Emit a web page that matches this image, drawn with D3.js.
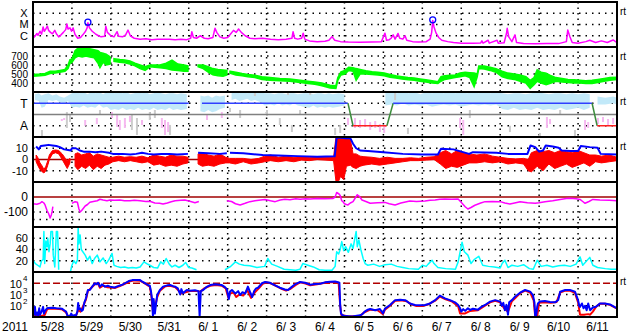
<!DOCTYPE html>
<html>
<head>
<meta charset="utf-8">
<script src="https://cdn.jsdelivr.net/npm/d3@7"></script>
<style>
body { margin: 0; background: #fff; }
svg text { font-family: "Liberation Sans", Arial, sans-serif; white-space: pre; }
</style>
</head>
<body>
<svg width="633" height="334"></svg>
<script>
// time axis: days since 2011-05-28 00:00
const dayLabels = ['5/28','5/29','5/30','5/31','6/ 1','6/ 2','6/ 3','6/ 4','6/ 5','6/ 6','6/ 7','6/ 8','6/ 9','6/10','6/11'];

// GOES x-ray flux [day, W/m2]
const xrayFlux = [[0,6e-7],[0.05,9e-7],[0.1,1.6e-6],[0.13,1.1e-6],[0.18,2.5e-6],[0.22,1.4e-6],[0.26,6e-6],[0.29,2.5e-6],[0.33,4e-6],[0.37,7e-6],[0.4,3e-6],[0.45,2e-6],[0.5,1.5e-6],[0.56,3e-6],[0.6,1.5e-6],[0.66,8e-7],[0.72,1.2e-6],[0.78,2e-6],[0.84,3.5e-6],[0.87,1.1e-5],[0.9,4e-6],[0.95,5e-6],[0.99,2.5e-6],[1.03,5e-6],[1.08,1.3e-6],[1.15,6e-7],[1.22,7e-7],[1.28,1.2e-6],[1.35,2.5e-6],[1.39,5e-6],[1.41,1.45e-5],[1.45,5e-6],[1.52,2.5e-6],[1.6,1.5e-6],[1.68,1e-6],[1.75,8e-7],[1.84,9e-7],[1.87,7e-6],[1.91,2e-6],[2,1e-6],[2.08,8e-7],[2.16,2.3e-6],[2.2,9e-7],[2.3,8e-7],[2.38,1.2e-6],[2.44,3.2e-6],[2.5,1e-6],[2.6,6e-7],[2.75,5e-7],[2.9,5.5e-7],[3.05,4.5e-7],[3.2,5e-7],[3.35,4.8e-7],[3.5,5e-7],[3.65,4.5e-7],[3.8,5e-7],[3.95,4.5e-7],[4.05,6e-7],[4.08,2.3e-6],[4.12,7e-7],[4.2,6e-7],[4.3,1e-6],[4.4,6e-7],[4.5,5.5e-7],[4.62,7e-7],[4.675,4.6e-6],[4.72,2e-6],[4.8,8e-7],[4.9,6e-7],[5,7e-7],[5.08,1.5e-6],[5.15,3e-6],[5.22,2e-6],[5.28,4e-6],[5.35,2e-6],[5.45,1e-6],[5.57,6e-7],[5.7,5.5e-7],[5.9,6e-7],[6.1,5e-7],[6.3,4.5e-7],[6.5,5e-7],[6.65,6e-7],[6.68,2.3e-6],[6.72,6e-7],[6.8,5e-7],[6.9,6e-7],[6.94,1.7e-6],[6.98,5e-7],[7.1,3.5e-7],[7.3,3e-7],[7.5,3.2e-7],[7.6,4e-7],[7.68,8.3e-7],[7.75,4e-7],[7.9,3e-7],[8.1,2.8e-7],[8.4,2.7e-7],[8.7,2.8e-7],[8.95,3e-7],[9.04,1.7e-6],[9.08,4e-7],[9.15,4.5e-7],[9.2,6e-7],[9.25,1.2e-6],[9.3,5e-7],[9.376,1.6e-6],[9.42,6e-7],[9.5,5e-7],[9.556,1e-6],[9.6,4e-7],[9.75,3e-7],[9.9,2.8e-7],[10.1,3e-7],[10.2,5e-7],[10.24,2e-6],[10.267,2.3e-5],[10.3,6e-6],[10.35,1.8e-6],[10.42,7e-7],[10.5,4e-7],[10.65,3e-7],[10.8,2.5e-7],[11,2.2e-7],[11.3,2.2e-7],[11.5,2.3e-7],[11.53,3.5e-7],[11.56,2.2e-7],[11.69,4e-7],[11.72,2.2e-7],[11.92,4e-7],[11.95,2.2e-7],[12.1,2.4e-7],[12.16,1.5e-6],[12.18,4.6e-6],[12.22,8e-7],[12.3,3e-7],[12.38,1.2e-6],[12.42,2.5e-7],[12.6,2e-7],[12.9,1.9e-7],[13.2,2e-7],[13.5,2e-7],[13.7,3e-7],[13.735,3.2e-6],[13.79,8.3e-7],[13.85,2.5e-7],[14,2.2e-7],[14.2,3e-7],[14.3,4e-7],[14.45,2.5e-7],[14.6,3.5e-7],[14.75,2.5e-7],[14.9,4.2e-7],[15,2.5e-7]];
const flareMarks = [[1.41,1.6e-5],[10.267,2.6e-5]];

// solar wind speed band [day, low, high] km/s
const windSpeed = [[0,475,495],[0.18,480,500],[0.31,485,505],[0.44,505,530],[0.57,510,530],[0.69,520,540],[0.82,530,550],[0.9,560,600],[0.95,620,660],[1,630,665],[1.08,680,760],[1.16,700,790],[1.26,690,790],[1.36,700,780],[1.46,690,780],[1.57,680,770],[1.67,620,760],[1.72,570,740],[1.8,630,730],[1.88,600,720],[1.98,610,690],[2.02,null,null],[2.08,640,670],[2.23,630,660],[2.36,625,655],[2.49,610,645],[2.62,590,620],[2.75,560,600],[2.88,540,580],[3,580,600],[3.13,575,600],[3.26,570,600],[3.42,560,620],[3.57,545,655],[3.72,540,610],[3.88,530,600],[3.98,530,590],[4.1,null,null],[4.24,580,600],[4.37,560,600],[4.5,520,580],[4.62,490,560],[4.75,480,550],[4.88,475,545],[4.98,490,540],[5.02,null,null],[5.06,510,530],[5.21,490,520],[5.37,480,505],[5.52,470,495],[5.7,460,485],[5.88,440,470],[6.09,430,460],[6.34,425,450],[6.6,420,445],[6.86,405,430],[7.06,395,420],[7.24,385,410],[7.42,370,400],[7.63,345,375],[7.78,340,370],[7.83,430,460],[7.91,490,525],[8.01,500,540],[8.11,540,575],[8.22,530,570],[8.3,430,560],[8.4,500,550],[8.55,500,535],[8.71,495,525],[8.86,490,520],[9.02,480,510],[9.17,465,495],[9.32,455,480],[9.48,445,470],[9.63,435,460],[9.79,430,455],[9.94,420,445],[10.09,410,435],[10.25,400,425],[10.4,395,415],[10.48,420,470],[10.58,440,480],[10.71,450,485],[10.84,460,490],[10.97,470,510],[11.1,480,520],[11.22,460,515],[11.33,360,510],[11.41,470,500],[11.45,560,590],[11.59,555,590],[11.74,540,575],[11.89,520,560],[12.05,470,530],[12.2,450,510],[12.36,440,500],[12.51,420,490],[12.66,400,470],[12.77,340,430],[12.87,380,460],[12.95,420,545],[13.05,400,520],[13.18,380,510],[13.31,400,480],[13.43,420,460],[13.59,410,450],[13.74,405,440],[13.9,400,435],[14.05,400,430],[14.2,395,425],[14.36,395,430],[14.51,405,440],[14.67,420,450],[14.82,430,460],[15,440,465]];

// IMF sector: +1 toward, -1 away
const sector = [[0,1],[4,1],[4,null],[4.34,null],[4.34,1],[8.09,1],[8.22,-1],[9.09,-1],[9.25,1],[14.36,1],[14.49,-1],[15,-1]];
const phiToward = [[0.05,1.3,1.8],[0.15,1.2,1.9],[0.22,0.6,1.7],[0.3,0.7,1.8],[0.4,1.3,1.9],[0.5,1.2,1.7],[0.6,1.3,1.8],[0.69,1.1,1.6],[0.8,1,1.5],[0.9,1.2,1.7],[1,0.6,1.9],[1.1,0.7,2],[1.2,0.6,1.9],[1.3,0.8,2],[1.4,0.6,1.8],[1.5,0.7,2],[1.6,0.6,1.9],[1.7,0.9,2],[1.8,0.6,1.8],[1.9,0.7,2],[2,0.4,2],[2.1,0.5,1.9],[2.2,0.4,2],[2.3,0.6,1.9],[2.4,0.4,2],[2.5,0.5,1.8],[2.6,0.4,1.9],[2.7,0.6,2],[2.8,0.4,1.9],[2.9,0.5,2],[3,0.4,1.8],[3.1,0.6,1.9],[3.2,0.4,2],[3.3,0.5,1.9],[3.4,0.4,1.8],[3.5,0.6,1.9],[3.6,0.4,1.9],[3.7,0.5,1.8],[3.8,0.4,1.9],[3.95,0.5,1.8],[4,null,null],[4.3,0.3,1.7],[4.4,0.2,1.6],[4.5,0.4,1.7],[4.6,0.2,1.5],[4.7,0.3,1.7],[4.8,0.5,1.6],[4.93,0.6,1.7],[5,null,null],[5.1,1.3,1.9],[5.2,1.4,2],[5.3,1.2,1.9],[5.4,1.3,2],[5.5,1.4,1.9],[5.6,1.2,2],[5.7,1.3,1.9],[5.85,1.1,2],[5.95,0.8,1.9],[6.1,0.9,1.9],[6.2,0.8,1.8],[6.3,1,1.9],[6.4,0.8,1.9],[6.5,0.9,1.8],[6.6,0.8,1.9],[6.7,1,1.9],[6.8,0.8,1.8],[6.95,0.7,1.9],[7.1,0.6,1.9],[7.2,0.8,1.8],[7.3,0.6,1.9],[7.4,0.7,1.9],[7.5,0.6,1.8],[7.6,0.7,1.9],[7.7,0.6,1.8],[7.85,0.7,1.9],[8,0.8,1.8],[8.05,null,null],[9.05,0.8,1.9],[9.2,0.9,2],[9.35,0.8,1.9],[9.5,1,2],[9.65,0.8,1.9],[9.8,0.9,2],[9.95,0.8,1.8],[10.1,0.9,2],[10.25,0.7,1.9],[10.4,0.8,2],[10.55,0.9,1.9],[10.7,0.8,2],[10.85,0.9,1.9],[11,0.7,2],[11.15,0.8,1.9],[11.3,0.9,2],[11.45,0.8,1.9],[11.6,0.9,2],[11.75,0.8,1.9],[11.9,0.9,2],[12.05,0.5,1.9],[12.2,0.4,1.8],[12.35,0.6,1.9],[12.5,0.4,1.9],[12.65,0.5,1.8],[12.8,0.4,1.9],[12.95,0.6,2],[13.1,0.4,1.9],[13.25,0.5,1.8],[13.4,0.4,1.9],[13.55,0.6,1.9],[13.7,0.4,1.8],[13.85,0.5,1.9],[14,0.6,1.8],[14.15,0.4,1.9],[14.3,0.6,1.8],[14.35,null,null],[14.5,0.9,1.6],[14.7,0.9,1.5],[14.9,1,1.6],[15,0.9,1.5]];
const phiAway = [[0.74,-0.58,-0.4],[0.8,-0.49,-0.31],[1.34,-1,-0.49],[1.64,-0.85,-0.31],[2.03,-0.31,0.22],[2.16,-1.1,-0.04],[2.23,-1.38,-0.49],[2.36,-1.2,-0.31],[2.49,-0.67,-0.13],[2.8,-0.93,-0.49],[3.31,-1.2,-0.31],[3.39,-1.82,-0.49],[3.47,-1.56,-0.67],[4.47,-0.49,-0.04],[4.85,-0.31,0.22],[8.09,-0.93,-0.31],[8.27,-1.2,-0.31],[8.4,-1.2,-0.49],[8.53,-1.1,-0.4],[8.66,-1.38,-0.67],[8.79,-1.2,-0.58],[8.91,-1.56,-0.85],[9.02,-1.64,-0.93],[10.97,-1.2,-0.31],[11.05,-1.82,-0.49],[13.2,-1.2,-0.22],[13.28,-0.85,-0.4],[14.18,-1.38,-0.49],[14.26,-1.2,-0.67],[14.51,-0.85,-0.31],[14.64,-0.67,-0.22],[14.77,-1,-0.4],[14.9,-0.85,-0.31]];
const phiOther = [[0.23,-1.91,-1.38],[0.87,-1.2,0.22],[0.95,-0.67,-0.04],[1.72,-0.04,0.4],[2.54,-1.38,-0.04],[2.67,-1.82,-0.31],[3,-0.49,0.22],[3.13,-0.31,0.4],[3.52,-1.82,-0.93],[5.06,0.22,0.58],[5.32,-0.31,0.4],[5.7,1.64,2],[6.01,-0.13,0.4],[6.34,-0.93,-0.31],[6.55,1.73,2],[6.65,-1.56,-0.93],[6.86,-0.04,0.4],[7.12,1.73,2],[7.76,-1.82,-1.2],[7.89,-1.64,-0.93],[9.3,1.29,2],[9.63,-1.73,-1.2],[10.71,-1.82,-1.38],[11.22,-0.31,0.4],[12.25,-1.56,-1],[13.02,-2,-1.64],[13.54,-0.04,0.4],[13.92,-1.91,-1.38]];

// IMF |B| and Bz [nT]
const imfBt = [[0.08,11.5],[0.15,9],[0.2,12],[0.3,12.5],[0.4,13],[0.5,12.5],[0.6,12],[0.69,11],[0.8,9],[0.9,8.5],[0.97,8],[1,10],[1.1,10],[1.2,8],[1.3,7],[1.45,7],[1.6,6.5],[1.75,7],[1.95,6],[2.05,5],[2.3,5],[2.5,4.5],[2.65,5],[2.8,6],[2.95,5],[3.1,4.5],[3.3,5],[3.5,5],[3.7,4.5],[3.98,5],[4.05,null],[4.24,6],[4.5,5.5],[4.8,5],[4.98,5.5],[5.02,null],[5.06,6],[5.4,5.5],[5.9,4],[6.3,3.5],[6.8,3],[7.3,2.5],[7.75,2.8],[7.8,19.5],[8,19],[8.15,19],[8.22,14],[8.3,10],[8.4,8],[8.6,7.5],[9,6.5],[9.5,5],[10,4.5],[10.4,4.5],[10.48,9.5],[10.8,9],[11,7],[11.2,5],[11.3,6.5],[11.9,6],[12.2,5],[12.7,5],[12.78,12.5],[12.9,11],[13,7],[13.1,8],[13.17,12.5],[13.35,11.5],[13.5,10.5],[13.58,8],[13.8,7.5],[14,7.5],[14.07,12],[14.3,11],[14.5,10.5],[14.58,5],[15,4.5]];
const imfBz = [[0.08,-2,4],[0.12,-5,2],[0.18,-9,-3],[0.24,-11,-6],[0.28,-12,-9],[0.33,-10,-6],[0.38,-5,-1],[0.42,0,4],[0.5,5,8],[0.58,6,8.5],[0.66,5,8],[0.75,0,5],[0.83,-5,1],[0.88,-8,-1],[0.95,-3,1],[0.98,null,null],[1.08,-6,5],[1.15,-9,6],[1.25,-6,4],[1.35,-8,5],[1.45,-5,6],[1.55,-9,3],[1.65,-6,5],[1.75,-8,4],[1.85,-5,3],[1.95,-4,2],[2.05,-2,2],[2.2,-1,3],[2.35,-2,2],[2.5,-1,2.5],[2.65,-2,2],[2.8,-3,3],[2.95,-2,1.5],[3.1,-5,4],[3.25,-4,3],[3.4,-6,2],[3.55,-5,4],[3.7,-6,3],[3.85,-4,3],[3.98,-3,2],[4.05,null,null],[4.24,-4,5],[4.35,-6,5.5],[4.5,-5,4],[4.65,-6,3],[4.8,-4,5],[4.95,-3,2],[5.05,-3,1],[5.2,-4,1],[5.4,-2,1],[5.6,-4,0],[5.8,-3,1],[5.95,-2,3],[6.1,-1,4],[6.3,-2,2],[6.5,-1,3],[6.7,-2,2],[6.9,-0.5,2.5],[7.1,-1,2],[7.3,0,2.5],[7.5,-0.5,2],[7.72,-1,2],[7.78,-19,19.5],[7.84,-20,19.5],[7.9,-15,19],[7.98,-18,19.5],[8.05,-6,19],[8.15,-5,18],[8.22,-7,5],[8.3,-8,5],[8.4,-6,3],[8.5,-5,2.5],[8.7,-4,2],[8.9,-5,1],[9.1,-4,2],[9.3,-3,1],[9.5,-2,1],[9.7,-1,1.5],[9.9,-1,1],[10.1,-0.5,2],[10.3,0,2.5],[10.46,-4,6],[10.6,-8,8],[10.75,-6,5],[10.9,-7,8],[11.05,-5,6],[11.2,-3,5],[11.4,-3,4],[11.6,-2,5],[11.8,-3,3],[12,-2,2],[12.2,-4,1],[12.4,-3,0.5],[12.6,-4,1],[12.72,-10,0],[12.8,-11,6],[12.95,-6,8],[13.1,-10,7],[13.25,-4,8],[13.4,-8,6],[13.55,-6,8],[13.7,-4,7],[13.85,-7,6],[14,-5,8],[14.15,-3,6],[14.3,-6,4],[14.45,-2,4],[14.6,-3,3],[14.8,-2,4],[15,-1,2]];

// Dst index [nT]
const dst = [[0,-45],[0.1,-48],[0.18,-42],[0.23,-31],[0.28,-40],[0.31,-53],[0.36,-90],[0.4,-110],[0.44,-140],[0.47,-120],[0.49,-98],[0.51,-64],[0.55,null],[1,-42],[1.08,-31],[1.14,-35],[1.18,-80],[1.21,-100],[1.25,-90],[1.34,-60],[1.4,-50],[1.46,-35],[1.55,-30],[1.65,-25],[1.72,-15],[1.8,-20],[1.9,-25],[1.98,-20],[2.1,-22],[2.23,-20],[2.35,-25],[2.49,-25],[2.6,-22],[2.75,-25],[2.9,-30],[3,-28],[3.13,-40],[3.25,-42],[3.34,-47],[3.45,-40],[3.55,-32],[3.65,-25],[3.8,-22],[3.9,-20],[4.05,-30],[4.16,-38],[4.26,-30],[4.3,null],[4.98,-25],[5.1,-30],[5.2,-45],[5.32,-53],[5.45,-42],[5.57,-31],[5.7,-25],[5.85,-20],[5.96,-16],[6.1,-25],[6.22,-31],[6.35,-20],[6.47,-15],[6.6,-18],[6.75,-12],[6.86,-15],[7,-12],[7.12,-13],[7.3,-10],[7.5,-12],[7.7,-10],[7.76,0],[7.8,30],[7.86,20],[7.89,10],[7.93,-25],[7.96,-31],[8,-45],[8.05,-50],[8.09,-53],[8.15,-40],[8.22,-31],[8.28,-5],[8.33,15],[8.38,5],[8.45,-20],[8.55,-30],[8.66,-42],[8.85,-38],[9.04,-36],[9.15,-45],[9.3,-53],[9.45,-40],[9.68,-27],[9.85,-30],[10.07,-27],[10.2,-22],[10.33,-20],[10.45,-15],[10.58,-13],[10.75,-15],[10.92,-13],[11.02,-42],[11.1,-65],[11.17,-80],[11.25,-70],[11.35,-55],[11.5,-40],[11.61,-31],[11.8,-30],[12,-31],[12.12,-40],[12.25,-47],[12.4,-38],[12.51,-31],[12.7,-38],[12.9,-42],[13,-38],[13.15,-31],[13.35,-25],[13.54,-16],[13.7,-10],[13.79,-9],[13.95,-12],[14.05,-16],[14.12,-30],[14.18,-42],[14.28,-30],[14.38,-16],[14.56,-20],[14.8,-22],[15,-25]];

// cyan panel values
const density = [[0,21],[0.06,15],[0.12,12],[0.18,9],[0.22,20],[0.26,22],[0.28,72],[0.3,15],[0.33,55],[0.36,45],[0.38,60],[0.41,36],[0.44,50],[0.46,72],[0.5,72],[0.52,30],[0.56,9],[0.6,72],[0.63,72],[0.65,36],[0.66,4],[0.68,null],[0.96,0],[1,12],[1.05,20],[1.1,15],[1.14,21],[1.16,78],[1.18,50],[1.21,66],[1.24,40],[1.28,36],[1.34,30],[1.4,21],[1.46,28],[1.52,15],[1.58,24],[1.65,30],[1.72,18],[1.8,25],[1.88,15],[1.95,22],[2.03,33],[2.08,12],[2.15,10],[2.25,8],[2.35,9],[2.45,7],[2.55,8],[2.65,7],[2.75,9],[2.85,18],[2.92,15],[3,12],[3.1,8],[3.2,7],[3.28,18],[3.35,14],[3.42,24],[3.5,14],[3.57,9],[3.65,12],[3.75,8],[3.85,12],[3.92,17],[4,8],[4.08,7],[4.2,4],[4.25,null],[4.93,4],[5.06,9],[5.2,18],[5.3,14],[5.42,12],[5.57,11],[5.75,8],[5.95,10],[6.03,24],[6.13,14],[6.28,10],[6.45,5],[6.6,4],[6.75,3],[6.86,5],[6.93,15],[7.06,12],[7.2,9],[7.35,4],[7.5,3],[7.68,3],[7.76,10],[7.8,36],[7.85,32],[7.89,40],[7.93,54],[7.98,38],[8.03,45],[8.1,35],[8.17,50],[8.22,42],[8.3,72],[8.33,45],[8.37,57],[8.42,40],[8.48,24],[8.53,15],[8.6,12],[8.75,14],[8.9,10],[9.04,13],[9.2,14],[9.35,10],[9.5,8],[9.65,6],[9.9,5],[10,12],[10.1,10],[10.15,14],[10.25,21],[10.3,15],[10.4,8],[10.6,6],[10.85,5],[10.92,18],[11.02,53],[11.08,36],[11.17,30],[11.25,15],[11.33,22],[11.45,28],[11.55,12],[11.7,10],[11.85,9],[12,7],[12.05,15],[12.12,21],[12.2,8],[12.3,12],[12.45,10],[12.6,13],[12.75,6],[12.85,5],[12.95,21],[13.05,10],[13.2,12],[13.35,9],[13.5,11],[13.65,12],[13.8,10],[13.95,14],[14.05,27],[14.12,12],[14.3,26],[14.38,12],[14.5,8],[14.7,6],[14.85,5],[15,5]];

// >2 MeV electron flux, two satellites
const electronsA = [[0,12],[0.03,20],[0.05,80],[0.07,15],[0.1,25],[0.13,14],[0.16,60],[0.18,16],[0.22,30],[0.26,80],[0.28,20],[0.31,35],[0.36,59],[0.39,62],[0.5,65],[0.6,60],[0.7,58],[0.74,55],[0.8,40],[0.85,30],[0.88,15],[0.9,11],[0.95,13],[0.98,20],[1.02,12],[1.06,15],[1.1,12],[1.14,30],[1.16,178],[1.18,50],[1.21,60],[1.25,35],[1.28,42],[1.32,200],[1.36,457],[1.41,2500],[1.46,2500],[1.52,5000],[1.59,1e4],[1.63,8000],[1.67,1.1e4],[1.72,5000],[1.77,7900],[1.85,5000],[1.92,6000],[1.98,5000],[2.05,4500],[2.1,4200],[2.18,5500],[2.23,6300],[2.3,7500],[2.36,1e4],[2.45,1.5e4],[2.49,1.7e4],[2.55,1.9e4],[2.62,1.95e4],[2.75,1.9e4],[2.82,1.3e4],[2.88,1e4],[2.95,7000],[3,6000],[3.03,2000],[3.06,300],[3.08,12],[3.1,400],[3.13,20],[3.16,150],[3.19,900],[3.26,2500],[3.34,5000],[3.45,6500],[3.52,6900],[3.6,5500],[3.65,5000],[3.72,3500],[3.78,1000],[3.81,3000],[3.85,1300],[3.9,1800],[3.95,2500],[4.03,2200],[4.16,2400],[4.25,2000],[4.28,11],[4.31,2000],[4.37,2500],[4.45,4500],[4.55,6900],[4.68,8000],[4.78,7500],[4.85,6900],[4.93,4500],[4.98,3000],[5.01,900],[5.03,400],[5.06,1800],[5.11,2500],[5.2,1200],[5.27,2000],[5.32,900],[5.38,1600],[5.45,1200],[5.52,5000],[5.58,1500],[5.63,600],[5.68,2000],[5.73,3500],[5.78,4000],[5.88,1e4],[5.96,1.3e4],[6.09,1.1e4],[6.22,6500],[6.34,4000],[6.47,2800],[6.55,2500],[6.6,3500],[6.73,8000],[6.86,1.3e4],[6.99,1.1e4],[7.12,7500],[7.24,8500],[7.37,9000],[7.5,1.2e4],[7.63,1.35e4],[7.76,1.4e4],[7.81,1.3e4],[7.87,1.1e4],[7.89,120],[7.91,21],[7.94,15],[8.01,12],[8.2,11],[8.4,14],[8.46,18],[8.53,32],[8.6,45],[8.66,51],[8.79,40],[8.91,51],[8.99,21],[9.04,55],[9.17,117],[9.3,316],[9.43,340],[9.56,316],[9.68,160],[9.81,117],[9.94,110],[10.07,117],[10.2,160],[10.33,316],[10.45,794],[10.58,450],[10.71,316],[10.84,200],[10.92,117],[10.97,59],[11,30],[11.05,50],[11.1,35],[11.17,60],[11.23,42],[11.3,55],[11.43,45],[11.52,80],[11.61,117],[11.74,234],[11.87,316],[12,234],[12.04,100],[12.08,180],[12.12,40],[12.16,120],[12.2,16],[12.23,200],[12.3,316],[12.38,631],[12.51,1445],[12.64,2510],[12.77,1800],[12.84,900],[12.88,200],[12.9,11],[12.92,11],[12.95,80],[12.97,160],[13.02,234],[13.15,260],[13.28,220],[13.41,200],[13.49,320],[13.54,1780],[13.67,2510],[13.79,2500],[13.92,1800],[14,316],[14.03,100],[14.05,80],[14.1,160],[14.14,60],[14.18,100],[14.22,40],[14.26,160],[14.31,40],[14.38,70],[14.46,83],[14.56,160],[14.69,160],[14.82,130],[15,59]];
const electronsB = [[0,11],[0.1,14],[0.2,12],[0.3,15],[0.36,45],[0.4,55],[0.6,55],[0.74,50],[0.85,25],[0.9,11],[1,11],[1.1,12],[1.16,40],[1.22,30],[1.3,120],[1.36,350],[1.41,2000],[1.5,4000],[1.59,8000],[1.67,9000],[1.72,4000],[1.8,6000],[1.9,4500],[2,4200],[2.1,3800],[2.23,5500],[2.36,9000],[2.49,1.5e4],[2.62,1.8e4],[2.75,1.7e4],[2.88,9000],[3,5000],[3.04,800],[3.08,30],[3.13,60],[3.19,600],[3.26,2200],[3.4,5500],[3.52,6000],[3.65,4500],[3.75,2000],[3.8,1200],[3.9,1500],[4.03,2000],[4.2,2100],[4.3,1800],[4.4,3500],[4.55,6000],[4.7,7000],[4.85,6000],[4.95,3500],[5.02,500],[5.06,1200],[5.15,1500],[5.22,600],[5.3,1000],[5.4,800],[5.5,2500],[5.6,500],[5.7,1600],[5.8,3500],[5.9,9000],[6,1.2e4],[6.1,1e4],[6.25,5500],[6.4,3000],[6.5,2200],[6.6,3000],[6.75,7000],[6.86,1.2e4],[7,9500],[7.12,6500],[7.3,8000],[7.5,1.1e4],[7.7,1.3e4],[7.85,1.1e4],[7.89,100],[7.92,15],[8.1,11],[8.4,12],[8.5,25],[8.66,45],[8.85,40],[8.99,18],[9.04,45],[9.17,100],[9.3,280],[9.45,300],[9.6,250],[9.7,140],[9.85,95],[10,95],[10.15,130],[10.33,280],[10.45,650],[10.6,380],[10.75,250],[10.92,90],[10.97,21],[11.1,21],[11.23,35],[11.43,40],[11.61,100],[11.74,200],[11.87,280],[12,200],[12.1,60],[12.2,30],[12.3,250],[12.4,550],[12.51,1300],[12.64,2200],[12.77,1500],[12.86,300],[12.9,11],[12.95,11],[13,180],[13.15,200],[13.3,180],[13.45,220],[13.54,1500],[13.67,2200],[13.8,2100],[13.92,1400],[14,200],[14.05,16],[14.15,16],[14.26,18],[14.31,16],[14.38,30],[14.46,80],[14.56,150],[14.69,150],[14.82,120],[15,55]];

// ---------- layout ----------
const plot = {l: 33, r: 617, t: 2};
const panelH = 45;
const svg = d3.select('svg');
const x = d3.scaleLinear().domain([0, 15]).range([plot.l, plot.r]);
const panelTop = i => plot.t + i * panelH;
const yRange = i => [panelTop(i) + panelH, panelTop(i)];

const yX = d3.scaleLog().domain([1e-7, 1e-3]).range(yRange(0));
const yV = d3.scaleLinear().domain([300, 800]).range(yRange(1));
const yS = d3.scaleLinear().domain([-2, 2]).range(yRange(2));
const yB = d3.scaleLinear().domain([-20, 20]).range(yRange(3));
const yD = d3.scaleLinear().domain([-200, 100]).range(yRange(4));
const yN = d3.scaleLinear().domain([0, 80]).range(yRange(5));
const yE = d3.scaleLog().domain([10, 1e5]).range(yRange(6));

const defs = svg.append('defs');
d3.range(7).forEach(i => {
    defs.append('clipPath').attr('id', 'clip' + i)
        .append('rect')
        .attr('x', plot.l).attr('y', panelTop(i))
        .attr('width', plot.r - plot.l).attr('height', panelH);
});

const panelG = i => svg.append('g').attr('clip-path', `url(#clip${i})`);

const dotted = (g, y) => g.append('line')
    .attr('x1', plot.l).attr('x2', plot.r).attr('y1', y).attr('y2', y)
    .attr('stroke', '#000').attr('stroke-width', 1.5).attr('stroke-dasharray', '1.5,5');
const solid = (g, y, color, w) => g.append('line')
    .attr('x1', plot.l).attr('x2', plot.r).attr('y1', y).attr('y2', y)
    .attr('stroke', color).attr('stroke-width', w);

// vertical day grid
const gridG = svg.append('g');
gridG.selectAll('line.day')
    .data(d3.range(1, 15))
    .join('line')
    .attr('x1', d => x(d)).attr('x2', d => x(d))
    .attr('y1', panelTop(0)).attr('y2', panelTop(7))
    .attr('stroke', '#000').attr('stroke-width', 1.5).attr('stroke-dasharray', '1.5,4');

// horizontal grids
[1e-4, 1e-5, 1e-6].forEach(v => dotted(gridG, yX(v)));
[400, 500, 600, 700].forEach(v => dotted(gridG, yV(v)));
[1, -1].forEach(v => dotted(gridG, yS(v)));
[10, -10].forEach(v => dotted(gridG, yB(v)));
[-100, -150].forEach(v => dotted(gridG, yD(v)));
[20, 40, 60].forEach(v => dotted(gridG, yN(v)));
[1e2, 1e3].forEach(v => dotted(gridG, yE(v)));

function drawLine(g, data, y, color, width) {
    const line = d3.line()
        .defined(d => d[1] != null)
        .x(d => x(d[0])).y(d => y(d[1]));
    g.append('path').datum(data)
        .attr('d', line)
        .attr('fill', 'none')
        .attr('stroke', color)
        .attr('stroke-width', width)
        .attr('stroke-linejoin', 'round');
}

function drawBand(g, data, y, fill, stroke, sw) {
    const area = d3.area()
        .defined(d => d[1] != null)
        .x(d => x(d[0])).y0(d => y(d[1])).y1(d => y(d[2]));
    g.append('path').datum(data)
        .attr('d', area)
        .attr('fill', fill)
        .attr('stroke', stroke)
        .attr('stroke-width', sw);
}

function drawTicks(g, data, y, color) {
    g.selectAll(null)
        .data(data)
        .join('rect')
        .attr('x', d => x(d[0]) - 1)
        .attr('width', 2)
        .attr('y', d => y(d[2]))
        .attr('height', d => y(d[1]) - y(d[2]))
        .attr('fill', color);
}

// panel 1: x-ray
const g0 = panelG(0);
drawLine(g0, xrayFlux, yX, '#ff00ff', 1.5);
g0.selectAll('circle')
    .data(flareMarks)
    .join('circle')
    .attr('cx', d => x(d[0])).attr('cy', d => yX(d[1]))
    .attr('r', 3)
    .attr('fill', 'none').attr('stroke', '#0000ff').attr('stroke-width', 1.3);

// panel 2: solar wind speed
drawBand(panelG(1), windSpeed, yV, '#00ff00', '#00ff00', 1.5);

// panel 3: sector
const g2 = panelG(2);
drawBand(g2, phiToward, yS, '#c2e9f9', 'none', 0);
drawTicks(g2, phiOther, yS, '#cccccc');
drawTicks(g2, phiAway, yS, '#f6b8f0');
solid(g2, yS(0), '#808080', 1.5);
d3.pairs(sector).forEach(([a, b]) => {
    if (a[1] == null || b[1] == null) return;
    const color = a[1] !== b[1] ? '#3c8c3c' : (a[1] > 0 ? '#3040ff' : '#ff2020');
    g2.append('line')
        .attr('x1', x(a[0])).attr('x2', x(b[0]))
        .attr('y1', yS(a[1])).attr('y2', yS(b[1]))
        .attr('stroke', color).attr('stroke-width', 1.5);
});

// panel 4: IMF
const g3 = panelG(3);
solid(g3, yB(0), '#a00000', 1.5);
drawBand(g3, imfBz, yB, '#ff0000', '#ff0000', 1);
drawLine(g3, imfBt, yB, '#0000ff', 2);

// panel 5: Dst
const g4 = panelG(4);
solid(g4, yD(0), '#a00000', 1.5);
drawLine(g4, dst, yD, '#ff00ff', 1.5);

// panel 6
drawLine(panelG(5), density, yN, '#00ffff', 1.5);

// panel 7: electrons
const g6 = panelG(6);
g6.append('line')
    .attr('x1', plot.l).attr('x2', plot.r).attr('y1', yE(1e4)).attr('y2', yE(1e4))
    .attr('stroke', '#b00000').attr('stroke-width', 1.5).attr('stroke-dasharray', '7,3');
drawLine(g6, electronsB, yE, '#ff0000', 2);
drawLine(g6, electronsA, yE, '#0000ff', 2);

// frames
const frameG = svg.append('g');
frameG.selectAll('line.h')
    .data(d3.range(8))
    .join('line')
    .attr('x1', plot.l - 1).attr('x2', plot.r + 1)
    .attr('y1', d => panelTop(d)).attr('y2', d => panelTop(d))
    .attr('stroke', '#000').attr('stroke-width', 2);
[plot.l, plot.r].forEach(px => frameG.append('line')
    .attr('x1', px).attr('x2', px).attr('y1', panelTop(0)).attr('y2', panelTop(7))
    .attr('stroke', '#000').attr('stroke-width', 2));

// labels
const labelG = svg.append('g').attr('font-size', 12).attr('fill', '#000');
const leftLabel = (txt, y, anchorX, anchor, size) => labelG.append('text')
    .attr('x', anchorX).attr('y', y).attr('dy', '0.36em')
    .attr('font-size', size || 12)
    .attr('text-anchor', anchor).text(txt);

[['X', 1e-4], ['M', 1e-5], ['C', 1e-6]].forEach(([t, v]) => leftLabel(t, yX(v), 24, 'middle', 11));
[700, 600, 500, 400].forEach(v => leftLabel(v, yV(v), 28, 'end', 10));
[['T', 1], ['A', -1]].forEach(([t, v]) => leftLabel(t, yS(v), 24, 'middle'));
[10, 0, -10].forEach(v => leftLabel(v, yB(v), 28, 'end', 11));
[0, -100].forEach(v => leftLabel(v, yD(v), 28, 'end'));
[60, 40, 20].forEach(v => leftLabel(v, yN(v), 28, 'end', 11));
[4, 3, 2].forEach(p => {
    labelG.append('text')
        .attr('x', 22).attr('y', yE(Math.pow(10, p))).attr('dy', '0.4em')
        .attr('font-size', 11)
        .attr('text-anchor', 'end').text('10');
    labelG.append('text')
        .attr('x', 23).attr('y', yE(Math.pow(10, p)) - 2)
        .attr('font-size', 8).text(p);
});

[0, 1, 2, 3, 6].forEach(i => labelG.append('text')
    .attr('x', 620).attr('y', panelTop(i) + 13)
    .attr('font-size', 10).text('rt'));

labelG.selectAll('text.day')
    .data(dayLabels)
    .join('text')
    .attr('x', (d, i) => x(i + 0.5))
    .attr('y', 331)
    .attr('text-anchor', 'middle')
    .text(d => d);
labelG.append('text').attr('x', 2).attr('y', 331).text('2011');
</script>
</body>
</html>
